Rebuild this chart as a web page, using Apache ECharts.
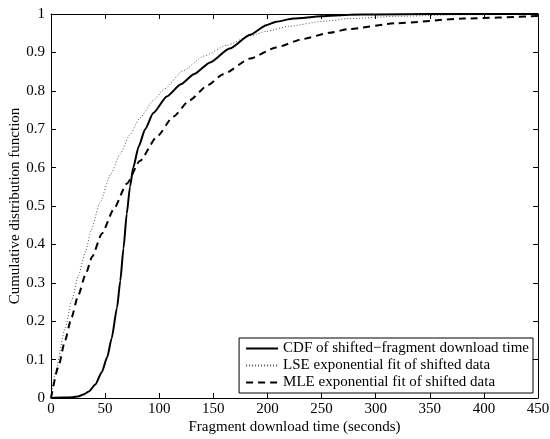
<!DOCTYPE html>
<html>
<head>
<meta charset="utf-8">
<script src="https://cdn.jsdelivr.net/npm/echarts@6/dist/echarts.min.js"></script>
<style>
html,body{margin:0;padding:0;background:#fff;}
#chart{width:550px;height:439px;}
</style>
</head>
<body>
<div id="chart"></div>
<script>
// Empirical CDF of shifted fragment download time
const cdfX = [0, 10, 20, 25, 30, 35, 41, 47, 52, 56, 61, 64, 67, 70, 73, 76, 81, 87, 94.5, 107, 120, 132, 147, 165, 184, 199, 208, 224, 250, 276, 300, 350, 400, 450];
const cdfY = [0, 0.001, 0.002, 0.004, 0.009, 0.017, 0.035, 0.068, 0.107, 0.155, 0.235, 0.305, 0.39, 0.48, 0.55, 0.60, 0.655, 0.70, 0.742, 0.785, 0.817, 0.843, 0.874, 0.91, 0.946, 0.971, 0.980, 0.988, 0.994, 0.998, 0.999, 1.0, 1.0, 1.0];
// LSE exponential fit
const lseX = [0, 4, 13, 19, 25, 32, 37, 45, 55, 64, 73, 82, 95, 105, 122, 141, 162, 184, 199, 220, 251, 276, 319, 380, 450];
const lseY = [0, 0.066, 0.18, 0.252, 0.316, 0.382, 0.436, 0.507, 0.582, 0.636, 0.686, 0.729, 0.776, 0.805, 0.852, 0.89, 0.918, 0.943, 0.955, 0.968, 0.981, 0.988, 0.994, 0.998, 0.999];
// MLE exponential fit
const mleX = [0, 7, 13, 19, 25, 32, 38, 47, 58, 70, 82, 98, 113, 128, 145, 159, 184, 208, 233, 257, 276, 319, 380, 450];
const mleY = [0, 0.083, 0.150, 0.21, 0.266, 0.322, 0.368, 0.428, 0.492, 0.558, 0.617, 0.681, 0.733, 0.775, 0.815, 0.843, 0.884, 0.913, 0.935, 0.951, 0.961, 0.976, 0.988, 0.995];

const seriesNames = ['CDF of shifted\u2212fragment download time', 'LSE exponential fit of shifted data', 'MLE exponential fit of shifted data'];
const xTicks = [0, 50, 100, 150, 200, 250, 300, 350, 400, 450];
const yTicks = [0, 0.1, 0.2, 0.3, 0.4, 0.5, 0.6, 0.7, 0.8, 0.9, 1];

const zip = (xs, ys) => xs.map((x, i) => [x, ys[i]]);
const font = 'Liberation Serif';
const fs = 15;

const axisCommon = {
  axisLine: {show: true, onZero: false, lineStyle: {color: '#000', width: 1}},
  axisTick: {show: true, inside: true, length: 5, lineStyle: {color: '#000'}},
  splitLine: {show: false}
};

const chart = echarts.init(document.getElementById('chart'), null, {renderer: 'canvas'});
chart.setOption({
  animation: false,
  backgroundColor: '#fff',
  grid: {left: 51, right: 12, top: 14, bottom: 41, containLabel: false, outerBoundsMode: 'none'},
  xAxis: [
    Object.assign({}, axisCommon, {
      type: 'value', min: 0, max: 450, interval: 50, position: 'bottom',
      name: 'Fragment download time (seconds)', nameLocation: 'middle', nameGap: 22,
      nameMoveOverlap: false,
      nameTextStyle: {fontFamily: font, fontSize: fs, color: '#000'},
      axisLabel: {fontFamily: font, fontSize: fs, color: '#000', margin: 4,
        formatter: v => xTicks.includes(v) ? String(v) : ''}
    }),
    Object.assign({}, axisCommon, {
      type: 'value', min: 0, max: 450, interval: 50, position: 'top',
      axisLabel: {show: false}
    })
  ],
  yAxis: [
    Object.assign({}, axisCommon, {
      type: 'value', min: 0, max: 1, interval: 0.1, position: 'left',
      name: 'Cumulative distribution function', nameLocation: 'middle', nameGap: 28,
      nameMoveOverlap: false,
      nameTextStyle: {fontFamily: font, fontSize: fs, color: '#000'},
      axisLabel: {fontFamily: font, fontSize: fs, color: '#000', margin: 6,
        formatter: v => {
          const t = yTicks.find(k => Math.abs(k - v) < 1e-9);
          return t === undefined ? '' : (t === 0 || t === 1 ? String(t) : t.toFixed(1));
        }}
    }),
    Object.assign({}, axisCommon, {
      type: 'value', min: 0, max: 1, interval: 0.1, position: 'right',
      axisLabel: {show: false}
    })
  ],
  legend: {
    orient: 'vertical',
    right: 17, bottom: 46,
    backgroundColor: '#fff',
    borderColor: '#000', borderWidth: 1, borderRadius: 0,
    padding: [3, 4, 3, 6],
    itemGap: 2,
    itemWidth: 32, itemHeight: 13,
    itemStyle: {opacity: 0},
    textStyle: {fontFamily: font, fontSize: fs, color: '#000'},
    data: seriesNames
  },
  series: [
    {
      name: seriesNames[0], type: 'line', data: zip(cdfX, cdfY), smooth: 0.2, smoothMonotone: 'x',
      showSymbol: false, symbol: 'none', itemStyle: {color: '#000'},
      lineStyle: {color: '#000', width: 2, type: 'solid'}, z: 3
    },
    {
      name: seriesNames[1], type: 'line', data: zip(lseX, lseY), smooth: 0.2, smoothMonotone: 'x',
      showSymbol: false, symbol: 'none', itemStyle: {color: '#555'},
      lineStyle: {color: '#555', width: 1, type: [1, 2]}, z: 2
    },
    {
      name: seriesNames[2], type: 'line', data: zip(mleX, mleY), smooth: 0.2, smoothMonotone: 'x',
      showSymbol: false, symbol: 'none', itemStyle: {color: '#000'},
      lineStyle: {color: '#000', width: 2, type: [7, 5]}, z: 2
    }
  ]
});
</script>
</body>
</html>
